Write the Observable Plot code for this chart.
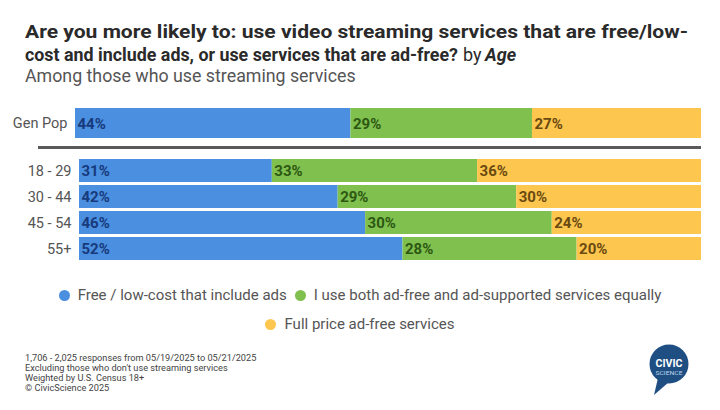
<!DOCTYPE html>
<html>
<head>
<meta charset="utf-8">
<script src="https://cdn.jsdelivr.net/npm/d3@7"></script>
<script src="https://cdn.jsdelivr.net/npm/@observablehq/plot@0.6"></script>
<style>
  html, body { margin: 0; padding: 0; background: #fff; }
  body { width: 720px; height: 410px; position: relative; overflow: hidden; font-family: Roboto, "Noto Sans", sans-serif; }
  .head { position: absolute; left: 0; top: 0; }
  .sep { position: absolute; left: 38px; top: 146px; width: 663px; height: 2.5px; background: #5a5a5a; }
  #gen, #ages { position: absolute; left: 0; }
  #gen { top: 100px; }
  #ages { top: 150px; }
  .legend { position: absolute; left: 0; top: 281px; width: 720px; text-align: center; font-size: 15px; color: #555; line-height: 29px; }
  .legend span.item { display: inline-block; margin: 0 4px; white-space: nowrap; }
  .legend span.dot { display: inline-block; width: 11px; height: 11px; border-radius: 50%; margin-right: 8px; vertical-align: -1px; }
  .foot { position: absolute; left: 25px; top: 353px; font-size: 9.2px; line-height: 10px; color: #444; }
  .logo { position: absolute; left: 640px; top: 340px; }
</style>
</head>
<body>
<svg class="head" width="720" height="95" font-family="Roboto, sans-serif">
  <text x="25" y="38" font-size="18" font-weight="700" fill="#2a2a2a" textLength="663" lengthAdjust="spacingAndGlyphs">Are you more likely to: use video streaming services that are free/low-</text>
  <text x="25" y="61" font-size="18" font-weight="700" fill="#2a2a2a" textLength="433" lengthAdjust="spacingAndGlyphs">cost and include ads, or use services that are ad-free?</text>
  <text x="463" y="61" font-size="18" fill="#2a2a2a">by</text>
  <text x="485" y="61" font-size="18" font-weight="700" font-style="italic" fill="#2a2a2a">Age</text>
  <text x="25" y="82" font-size="17.8" fill="#555">Among those who use streaming services</text>
</svg>
<div id="gen"></div>
<div class="sep"></div>
<div id="ages"></div>
<div class="legend" id="legend"></div>
<div class="foot">1,706 - 2,025 responses from 05/19/2025 to 05/21/2025<br>Excluding those who don't use streaming services<br>Weighted by U.S. Census 18+<br>© CivicScience 2025</div>
<svg class="logo" width="60" height="60" viewBox="0 0 60 60">
  <path d="M18 38 L14 55 L29 42 Z" fill="#1f4f82"/>
  <circle cx="29" cy="24" r="19.5" fill="#1f4f82"/>
  <text x="29" y="27" text-anchor="middle" fill="#fff" font-family="Roboto, sans-serif" font-weight="700" font-size="11" textLength="27" lengthAdjust="spacingAndGlyphs">CIVIC</text>
  <text x="29" y="35" text-anchor="middle" fill="#bcd3ec" font-family="Roboto, sans-serif" font-size="6" textLength="27" lengthAdjust="spacingAndGlyphs">SCIENCE</text>
</svg>
<script>
// Response options, in stacking order
const series = [
  "Free / low-cost that include ads",
  "I use both ad-free and ad-supported services equally",
  "Full price ad-free services"
];
const fills = ["#4a8fe0", "#80c04f", "#fdc64f"];
const labelColors = ["#173a7c", "#2c5812", "#6a4a10"];

// General population
const genGroups = ["Gen Pop"];
const genValues = [[44, 29, 27]];

// Age groups (rounded shares; a row may sum to 101)
const ageGroups = ["18 - 29", "30 - 44", "45 - 54", "55+"];
const ageValues = [
  [31, 33, 36],
  [42, 29, 30],
  [46, 30, 24],
  [52, 28, 20]
];

function rows(groups, values) {
  const out = [];
  groups.forEach((g, i) => series.forEach((s, j) => out.push({group: g, series: s, k: j, value: values[i][j]})));
  return out;
}

// Each row is stacked and normalized to the full width
function stackedBars(groups, values, {height, marginLeft, marginTop, marginBottom, padding}) {
  const data = rows(groups, values);
  return Plot.plot({
    width: 720,
    height,
    marginLeft,
    marginRight: 19,
    marginTop,
    marginBottom,
    style: {fontFamily: "Roboto, sans-serif", fontSize: "14.5px", color: "#555", background: "transparent"},
    x: {domain: [0, 1], axis: null},
    y: {domain: groups, padding, label: null, tickSize: 0, tickPadding: 8},
    marks: [
      Plot.barX(data, Plot.stackX({x: "value", y: "group", z: "series", offset: "normalize", fill: d => fills[d.k]})),
      Plot.text(data, Plot.stackX1({
        x: "value", y: "group", z: "series", offset: "normalize",
        text: d => d.value + "%",
        fill: d => labelColors[d.k],
        textAnchor: "start", dx: 2, dy: 0.5,
        fontSize: 15, fontWeight: 700
      }))
    ]
  });
}

document.getElementById("gen").append(
  stackedBars(genGroups, genValues, {height: 45, marginLeft: 75, marginTop: 8, marginBottom: 7, padding: 0})
);
document.getElementById("ages").append(
  stackedBars(ageGroups, ageValues, {height: 120, marginLeft: 79, marginTop: 6, marginBottom: 7, padding: 0.1})
);

// Legend: first two options on one row, the third below
const legend = document.getElementById("legend");
series.forEach((s, j) => {
  const item = document.createElement("span");
  item.className = "item";
  const dot = document.createElement("span");
  dot.className = "dot";
  dot.style.background = fills[j];
  item.append(dot, document.createTextNode(s));
  legend.append(item);
  if (j === 1) legend.append(document.createElement("br"));
});
</script>
</body>
</html>
